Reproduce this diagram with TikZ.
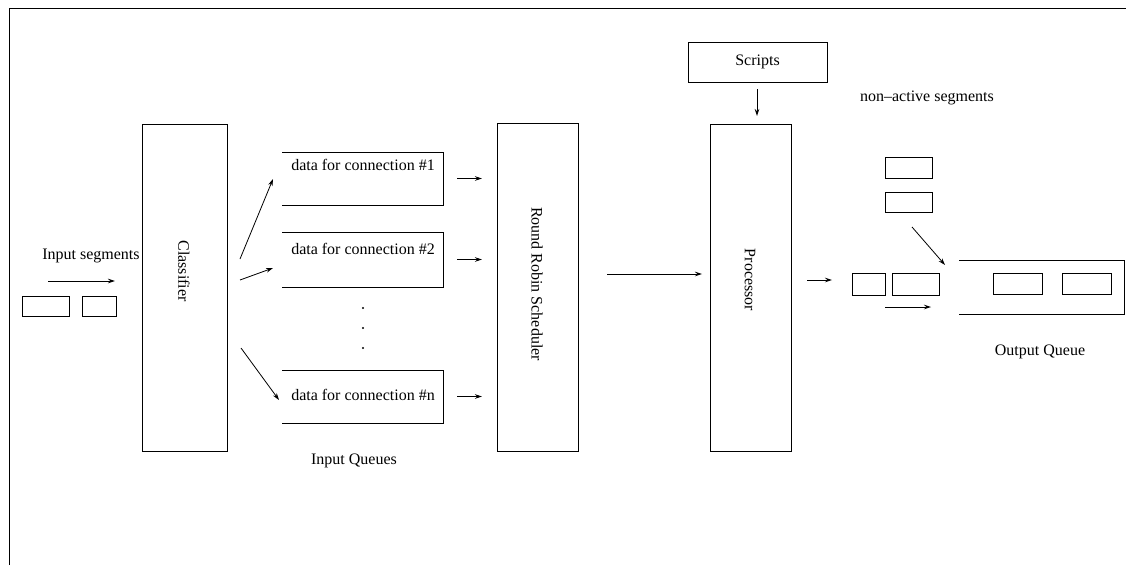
\documentclass[tikz,border=0pt]{standalone}
\usepackage{fontspec}
\setmainfont{Liberation Serif}
\usetikzlibrary{arrows.meta}

\begin{document}
\begin{tikzpicture}[x=1pt,y=-1pt,
  font=\fontsize{16}{19}\selectfont,
  every node/.style={inner sep=0pt,outer sep=0pt},
  line width=0.9pt,
  blk/.style={draw,minimum width=#1},
  seg/.style={draw,minimum height=20pt},
  openbox/.style={minimum width=161pt},
  txt/.style={anchor=center},
  vtxt/.style={rotate=-90,anchor=center},
  arr/.style={-{Stealth[length=7pt,width=4.5pt]},line width=0.8pt}]

\useasboundingbox (0,0) rectangle (1126,565);

% outer frame (only top and left edges show)
\draw (9,565) -- (9,8) -- (1126,8);

% main stages
\node[draw,minimum width=85pt,minimum height=327pt] (cls)  at (184.5,287.5) {};
\node[draw,minimum width=81pt,minimum height=328pt] (rr)   at (537.5,287)   {};
\node[draw,minimum width=81pt,minimum height=327pt] (proc) at (750.5,287.5) {};
\node[draw,minimum width=139pt,minimum height=40pt] (scr)  at (757.5,62)    {Scripts};

\node[vtxt] (clsT)  at (184,271) {Classifier};
\node[vtxt] (rrT)   at (537,284) {Round Robin Scheduler};
\node[vtxt] (procT) at (750,280) {Processor};

% input segments
\node[txt] (inT) at (91,256) {Input segments};
\node[seg,minimum width=47pt] (sa) at (45.5,306) {};
\node[seg,minimum width=34pt] (sb) at (99,306)   {};
\coordinate (inA) at (48,281);
\coordinate (inB) at (115,281);
\draw[arr] (inA) -- (inB);

% input queues (open on the left)
\node[openbox,minimum height=53pt] (q1) at (362.5,178.5) {};
\node[openbox,minimum height=55pt] (q2) at (362.5,259.5) {};
\node[openbox,minimum height=53pt] (qn) at (362.5,396.5) {};
\foreach \q in {q1,q2,qn}
  \draw (\q.north west) -- (\q.north east) -- (\q.south east) -- (\q.south west);
\node[txt] (q1T) at (363,165) {data for connection \#1};
\node[txt] (q2T) at (363,249) {data for connection \#2};
\node[txt] (qnT) at (363,395) {data for connection \#n};
\foreach \y/\n in {308/d1,328/d2,348/d3}
  \fill (363,\y) circle (1.2pt) coordinate (\n);
\node[txt] (iqT) at (354,461) {Input Queues};

% classifier fans out to the queues
\coordinate (c1) at (240,259);  \coordinate (e1) at (273,179);
\coordinate (c2) at (240,280);  \coordinate (e2) at (273,268);
\coordinate (c3) at (241,348);  \coordinate (e3) at (279,400);
\draw[arr] (c1) -- (e1);
\draw[arr] (c2) -- (e2);
\draw[arr] (c3) -- (e3);

% queues into the scheduler
\foreach \q in {q1,q2,qn}
  \draw[arr] ([xshift=14pt]\q.east) -- ([xshift=-15pt]\q.east -| rr.west);

% scheduler to processor, scripts to processor
\coordinate (rA) at (607,274);
\draw[arr] (rA) -- ([xshift=-8pt]rA -| proc.west);
\coordinate (sA) at (757,89);
\coordinate (sB) at (757,116);
\draw[arr] (sA) -- (sB);

% processor output
\coordinate (pA) at (807,280);
\coordinate (pB) at (832,280);
\draw[arr] (pA) -- (pB);
\node[draw,minimum width=33pt,minimum height=22pt] (oc) at (868.5,284) {};
\node[draw,minimum width=47pt,minimum height=22pt] (od) at (915.5,284) {};
\coordinate (uA) at (885,307);
\coordinate (uB) at (931,307);
\draw[arr] (uA) -- (uB);

% non-active segments
\node[txt] (naT) at (927,98) {non--active segments};
\node[draw,minimum width=47pt,minimum height=21pt] (na1) at (908.5,167.5) {};
\node[draw,minimum width=47pt,minimum height=20pt] (na2) at (908.5,202)   {};
\coordinate (nA) at (912,227);
\coordinate (nB) at (945,265);
\draw[arr] (nA) -- (nB);

% output queue (open on the left)
\node[minimum width=165pt,minimum height=54pt] (oq) at (1041.5,287) {};
\draw (oq.north west) -- (oq.north east) -- (oq.south east) -- (oq.south west);
\node[draw,minimum width=49pt,minimum height=21pt] (oqa) at (1017.5,283.5) {};
\node[draw,minimum width=49pt,minimum height=21pt] (oqb) at (1086.5,283.5) {};
\node[txt] (oqT) at (1040,352) {Output Queue};

\end{tikzpicture}
\end{document}
